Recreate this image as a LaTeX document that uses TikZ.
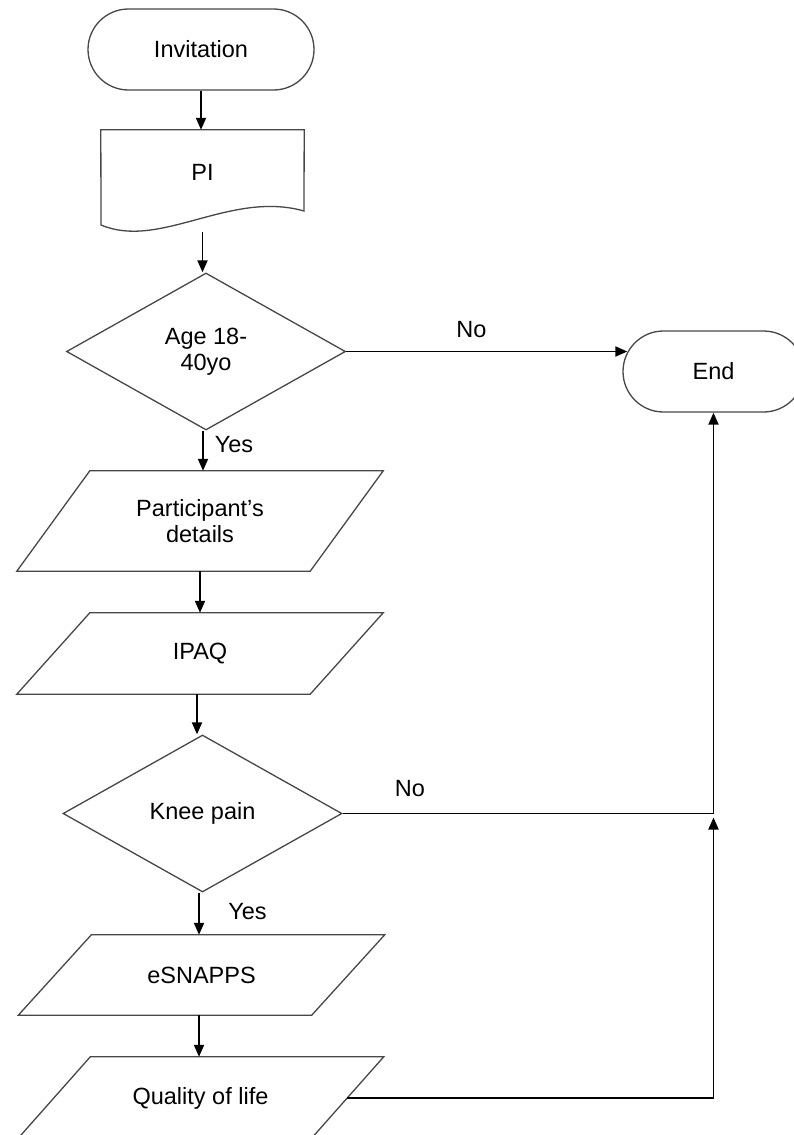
\documentclass[tikz,border=0pt]{standalone}
\usepackage{fontspec}
\setmainfont{Liberation Sans}
\usetikzlibrary{shapes.geometric,shapes.misc,arrows.meta,calc}
\begin{document}
\begin{tikzpicture}[x=1pt,y=-1pt,
  txt/.style={font=\fontsize{23.5}{26.5}\selectfont, inner sep=0pt, align=center},
  outl/.style={draw=black!72, line width=1.3pt},
  term/.style={txt, outl, rounded rectangle, minimum height=81pt},
  decis/.style={txt, outl, diamond, minimum width=279pt, minimum height=157pt},
  iobox/.style={txt, minimum width=293pt},
  arr/.style={line width=1.9pt, -{Triangle[length=12pt,width=10pt]}},
  lbl/.style={font=\fontsize{23.5}{26.5}\selectfont, inner sep=0pt}]
\clip (0,0) rectangle (794,1135);
\fill[white] (0,0) rectangle (794,1135);

% nodes
\node[term, minimum width=226pt] (inv) at (201,49.5) {Invitation};
\node[txt, minimum width=203pt, minimum height=84pt] (pi) at (202.5,172) {PI};
\draw[outl] (pi.north west) -- (pi.north east) -- (304,211)
  .. controls (230,190) and (160,250) .. (101,225) -- cycle;
\node[decis] (age) at (206,351.5) {Age 18-\\40yo};
\node[term, minimum width=181pt] (end) at (713.5,371.5) {End};
\node[iobox, minimum height=100pt] (pd) at (200,521) {Participant’s\\details};
\node[iobox, minimum height=81pt] (ipaq) at (200,653.5) {IPAQ};
\node[decis] (knee) at (202.5,813.5) {Knee pain};
\node[iobox, minimum height=80pt] (esn) at (201.5,975) {eSNAPPS};
\node[iobox, minimum height=82pt] (qol) at (200.5,1098) {Quality of life};

\foreach \n in {pd,ipaq,esn,qol}
  \draw[outl] ([xshift=36.5pt]\n.north west) -- ([xshift=36.5pt]\n.north east)
    -- ([xshift=-36.5pt]\n.south east) -- ([xshift=-36.5pt]\n.south west) -- cycle;

% labels
\node[lbl] (yes1) at (234,445) {Yes};
\node[lbl] (yes2) at (247.5,911.5) {Yes};
\node[lbl] (no1) at (471.5,329.5) {No};
\node[lbl] (no2) at (410,789) {No};

% connectors
\draw[arr] (inv.south) -- (inv.south |- pi.north);
\coordinate (a1) at ($(pi.south)+(0,18)$);
\draw[arr] (a1) -- (a1 |- age.north);
\coordinate (a2) at ($(age.south)+(-3,0)$);
\draw[arr] (a2) -- (a2 |- pd.north);
\draw[arr] (pd.south) -- (pd.south |- ipaq.north);
\coordinate (a3) at ($(ipaq.south)+(-3,0)$);
\draw[arr] (a3) -- (a3 |- knee.north);
\coordinate (a4) at ($(knee.south)+(-3.5,0)$);
\draw[arr] (a4) -- (a4 |- esn.north);
\coordinate (a5) at ($(esn.south)+(-2.5,0)$);
\draw[arr] (a5) -- (a5 |- qol.north);

\coordinate (aend) at ($(age.east -| end.west)+(5,0)$);
\draw[arr] (age.east) -- (aend);
\coordinate (junc) at (end.south |- knee.east);
\draw[arr] (knee.east) -- (junc) -- (end.south);
\coordinate (jq) at ($(junc)+(0,4)$);
\draw[arr] (qol.east) -- (qol.east -| junc) -- (jq);
\end{tikzpicture}
\end{document}
